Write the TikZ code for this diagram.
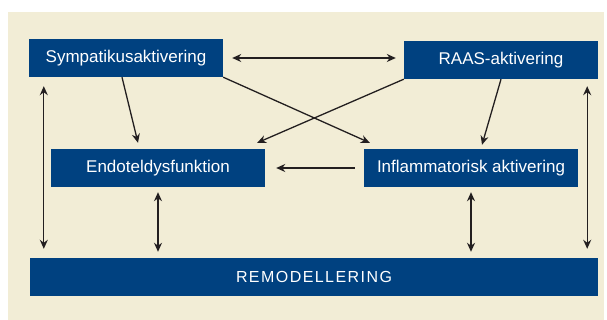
\documentclass[tikz,border=0pt]{standalone}
\usepackage{fontspec}
\setmainfont{Liberation Sans}
\usetikzlibrary{arrows.meta, positioning}
\definecolor{boxblue}{RGB}{0,65,128}
\definecolor{paper}{RGB}{242,237,214}
\definecolor{ink}{RGB}{35,31,32}

\begin{document}
\begin{tikzpicture}[
    x=1pt, y=-1pt,
    box/.style={fill=boxblue, draw=none, text=white, inner sep=0pt, minimum height=38pt, font=\fontsize{17}{20}\selectfont},
    link/.style={draw=ink, line width=1.3pt, -{Stealth[length=9pt, width=8pt]}},
    twoway/.style={link, {Stealth[length=9pt, width=8pt]}-{Stealth[length=9pt, width=8pt]}}
]
    % --- background ---
    \useasboundingbox (0,0) rectangle (607,320);
    \fill[paper] (8,12) rectangle (604,320);

    % --- boxes ---
    \node[box, minimum width=194pt] (sym) at (126, 58) {Sympatikusaktivering};
    \node[box, minimum width=194pt] (raas) at (501, 60) {RAAS-aktivering};
    \node[box, minimum width=214pt] (endo) at (158, 168) {Endoteldysfunktion};
    \node[box, minimum width=214pt] (infl) at (471, 168) {Inflammatorisk aktivering};
    \node[box, minimum width=568pt, font=\fontsize{16}{20}\selectfont\addfontfeature{LetterSpace=9}] (remod) at (314, 277) {REMODELLERING};

    % --- arrows between the top boxes ---
    \draw[twoway, shorten <=9pt, shorten >=8pt] (sym.east) -- (sym.east -| raas.west);
    \draw[link] ([xshift=-4pt]sym.south) -- ([xshift=-20pt, yshift=6pt]endo.north);
    \draw[link] (sym.south east) -- ([xshift=6pt, yshift=6pt]infl.north west);
    \draw[link] (raas.south west) -- ([xshift=-8pt, yshift=6pt]endo.north east);
    \draw[link] (raas.south) -- ([xshift=11pt, yshift=4pt]infl.north);

    % --- middle row ---
    \draw[link] ([xshift=-9pt]infl.west) -- ([xshift=11pt]endo.east);

    % --- arrows down to remodellering ---
    \draw[twoway, shorten <=9pt, shorten >=9pt] ([xshift=15pt]sym.south west) -- ([xshift=14pt]remod.north west);
    \draw[twoway, shorten <=7pt, shorten >=9pt] ([xshift=-11pt]raas.south east) -- ([xshift=-11pt]remod.north east);
    \draw[twoway, shorten <=5pt, shorten >=6pt] (endo.south) -- (endo.south |- remod.north);
    \draw[twoway, shorten <=5pt, shorten >=6pt] (infl.south) -- (infl.south |- remod.north);
\end{tikzpicture}
\end{document}
